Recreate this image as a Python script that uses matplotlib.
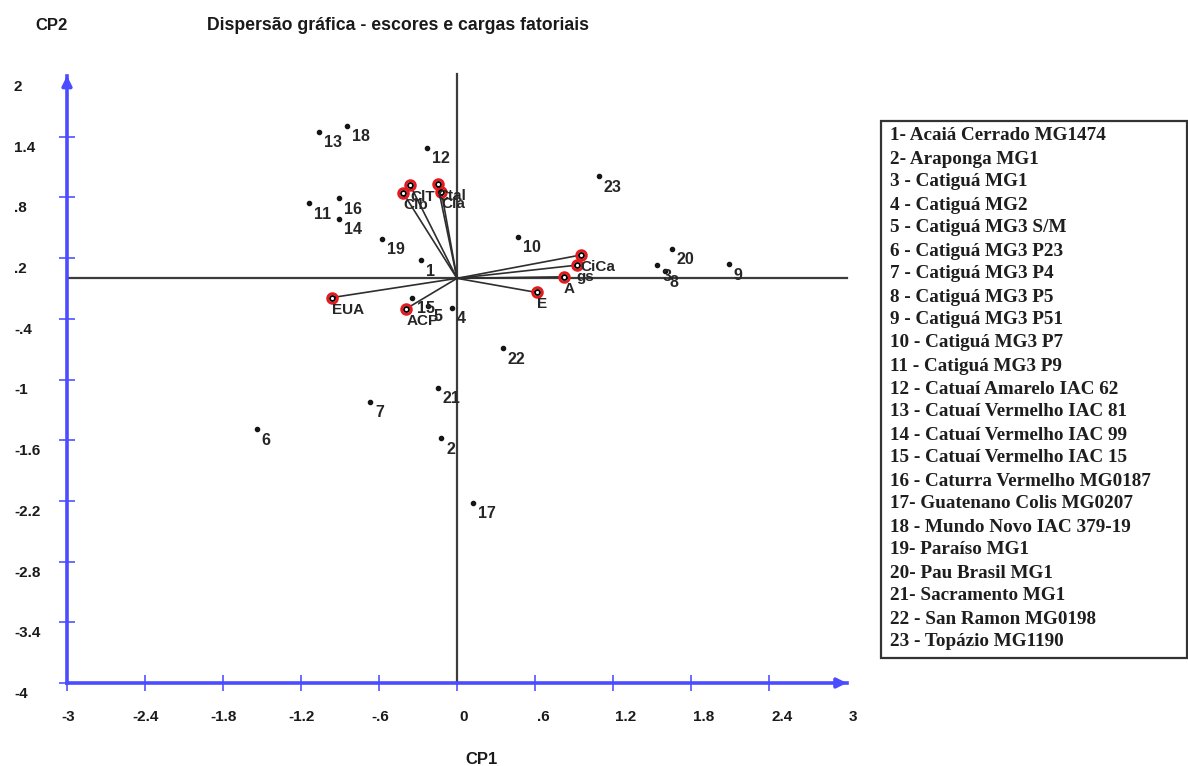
import matplotlib
matplotlib.use('Agg')
import matplotlib.pyplot as plt
from matplotlib.transforms import blended_transform_factory, offset_copy
from matplotlib.patches import Rectangle
from matplotlib import font_manager

# ---------------- data ----------------
score_ids = [str(i) for i in range(1, 24)]
score_x = [-0.28, -0.12, 1.54, -0.04, -0.22, -1.54, -0.67, 1.60, 2.09, 0.47,
           -1.14, -0.23, -1.06, -0.91, -0.35, -0.91, 0.12, -0.85, -0.58, 1.65,
           -0.15, 0.35, 1.09]
score_y = [0.18, -1.58, 0.13, -0.29, -0.27, -1.49, -1.22, 0.07, 0.14, 0.41,
           0.74, 1.29, 1.45, 0.59, -0.19, 0.79, -2.22, 1.51, 0.39, 0.29,
           -1.08, -0.69, 1.01]

load_names = ['ClT', 'Ctal', 'Clb', 'Cla', 'CiCa', 'gs', 'A', 'E', 'EUA', 'ACP']
load_x = [-0.36, -0.15, -0.415, -0.12, 0.95, 0.92, 0.82, 0.615, -0.96, -0.39]
load_y = [0.92, 0.93, 0.845, 0.855, 0.23, 0.13, 0.015, -0.14, -0.19, -0.30]

xtick_vals = [-3, -2.4, -1.8, -1.2, -0.6, 0, 0.6, 1.2, 1.8, 2.4, 3]
xtick_labels = ['-3', '-2.4', '-1.8', '-1.2', '-.6', '0', '.6', '1.2', '1.8', '2.4', '3']
ytick_vals = [-4, -3.4, -2.8, -2.2, -1.6, -1, -0.4, 0.2, 0.8, 1.4, 2]
ytick_labels = ['-4', '-3.4', '-2.8', '-2.2', '-1.6', '-1', '-.4', '.2', '.8', '1.4', '2']

legend_entries = [
    '1- Acaiá Cerrado MG1474',
    '2- Araponga MG1',
    '3 - Catiguá MG1',
    '4 - Catiguá MG2',
    '5 - Catiguá MG3 S/M',
    '6 - Catiguá MG3 P23',
    '7 - Catiguá MG3 P4',
    '8 - Catiguá MG3 P5',
    '9 - Catiguá MG3 P51',
    '10 - Catiguá MG3 P7',
    '11 - Catiguá MG3 P9',
    '12 - Catuaí Amarelo IAC 62',
    '13 - Catuaí Vermelho IAC 81',
    '14 - Catuaí Vermelho IAC 99',
    '15 - Catuaí Vermelho IAC 15',
    '16 - Caturra Vermelho MG0187',
    '17- Guatenano Colis MG0207',
    '18 - Mundo Novo IAC 379-19',
    '19- Paraíso MG1',
    '20- Pau Brasil MG1',
    '21- Sacramento MG1',
    '22 - San Ramon MG0198',
    '23 - Topázio MG1190',
]

title = 'Dispersão gráfica - escores e cargas fatoriais'

# ---------------- fonts ----------------
names = {f.name for f in font_manager.fontManager.ttflist}
narrow = 'Liberation Sans Narrow' if 'Liberation Sans Narrow' in names else 'Liberation Sans'
sans = 'Liberation Sans'
serif = 'Liberation Serif'

# ---------------- figure ----------------
W, H = 1188, 766
fig = plt.figure(figsize=(W / 100, H / 100), dpi=100)
fig.patch.set_facecolor('white')
x0, x1 = 67, 847
ytop, ybot = 76, 683
ax = fig.add_axes([x0 / W, 1 - ybot / H, (x1 - x0) / W, (ybot - ytop) / H])
ax.set_xlim(-3, 3)
ax.set_ylim(-4, 2)
ax.set_facecolor('white')

blue = '#4b4bff'
for s in ['top', 'right']:
    ax.spines[s].set_visible(False)
for s in ['left', 'bottom']:
    ax.spines[s].set_color(blue)
    ax.spines[s].set_linewidth(2.6)
ax.set_xticks(xtick_vals[:-1])
ax.set_yticks(ytick_vals[:-1])
ax.tick_params(direction='inout', length=12, width=1.4, color='#6a6aff',
               labelbottom=False, labelleft=False)

# arrow heads
ax.annotate('', xy=(3.02, -4), xytext=(2.9, -4),
            arrowprops=dict(arrowstyle='-|>', color=blue, lw=2.6, mutation_scale=14),
            annotation_clip=False)
ax.annotate('', xy=(-3, 2.03), xytext=(-3, 1.9),
            arrowprops=dict(arrowstyle='-|>', color=blue, lw=2.6, mutation_scale=14),
            annotation_clip=False)

# zero reference lines
ax.plot([-3, 3.0], [0, 0], color='#3c3c3c', lw=1.6, zorder=2, clip_on=False)
ax.plot([0, 0], [-4, 2.02], color='#3c3c3c', lw=1.6, zorder=2, clip_on=False)

# loading vectors
for lx, ly in zip(load_x, load_y):
    ax.plot([0, lx], [0, ly], color='#2e2e2e', lw=1.2, zorder=3)
ax.plot(load_x, load_y, 'o', ms=7, mfc='none', mec='#e8191c', mew=2.0, zorder=4)
ax.plot(load_x, load_y, 'o', ms=3.6, mfc='white', mec='black', mew=1.3, zorder=5)

# scores
ax.plot(score_x, score_y, 'o', ms=3.0, color='#151515', zorder=4)

txtcol = '#262626'
for lab, sx, sy in zip(score_ids, score_x, score_y):
    ax.annotate(lab, (sx, sy), xytext=(5, -11), textcoords='offset pixels',
                ha='left', va='center', fontsize=11.5, fontweight='bold',
                family=sans, color=txtcol, zorder=6)
for lab, lx, ly in zip(load_names, load_x, load_y):
    ax.annotate(lab, (lx, ly), xytext=(0, -12), textcoords='offset pixels',
                ha='left', va='center', fontsize=11, fontweight='bold',
                family=sans, color=txtcol, zorder=6)

# tick labels
for v, lab in zip(xtick_vals, xtick_labels):
    if v < 0:
        ax.annotate(lab, (v, -4), xytext=(1, -34), textcoords='offset pixels',
                    ha='center', va='center', fontsize=11, fontweight='bold',
                    family=narrow, color='#1a1a1a', annotation_clip=False)
    else:
        ax.annotate(lab, (v, -4), xytext=(2, -34), textcoords='offset pixels',
                    ha='left', va='center', fontsize=11, fontweight='bold',
                    family=narrow, color='#1a1a1a', annotation_clip=False)

ytr = offset_copy(blended_transform_factory(fig.transFigure, ax.transData),
                  fig=fig, x=0, y=-11, units='dots')
for v, lab in zip(ytick_vals, ytick_labels):
    fig.text(14 / W, v, lab, transform=ytr, ha='left', va='center',
             fontsize=11, fontweight='bold', family=narrow, color='#1a1a1a')

# titles
fig.text(52 / W, 1 - 25 / H, 'CP2', ha='center', va='center', fontsize=12,
         fontweight='bold', family=narrow, color='#1a1a1a')
fig.text(207 / W, 1 - 25 / H, title, ha='left', va='center', fontsize=12.7,
         fontweight='bold', family=narrow, color='#1a1a1a')
fig.text(481 / W, 1 - 760 / H, 'CP1', ha='center', va='center', fontsize=12,
         fontweight='bold', family=narrow, color='#1a1a1a')

# legend box
bx0, bx1, by0, by1 = 881, 1187, 121, 658
fig.add_artist(Rectangle((bx0 / W, 1 - by1 / H), (bx1 - bx0) / W, (by1 - by0) / H,
                         transform=fig.transFigure, fill=False, ec='#333333', lw=1.6))
row0, step = 136, 23
for i, entry in enumerate(legend_entries):
    fig.text(890 / W, 1 - (row0 + i * step) / H, entry, ha='left', va='center',
             fontsize=13.8, fontweight='bold', family=serif, color='#1e1e1e')

fig.savefig('out.png', dpi=100, facecolor='white')
